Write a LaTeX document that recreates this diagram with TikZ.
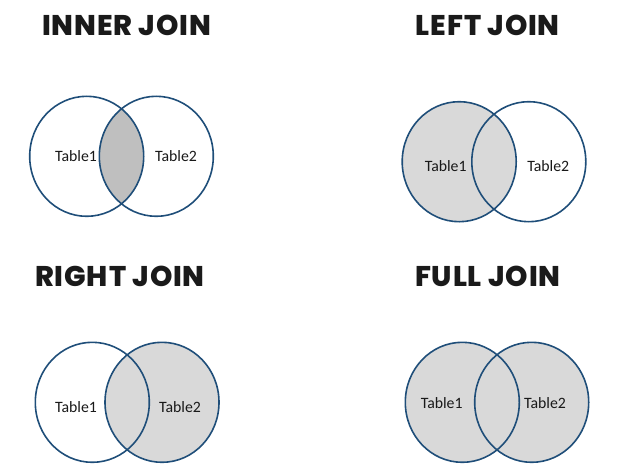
\documentclass[tikz,border=0pt]{standalone}
\usepackage{fontspec}
\setmainfont{Carlito}
\newfontfamily\titlefont{Poppins}[UprightFont=* ExtraBold, LetterSpace=3]
\definecolor{ring}{HTML}{1F4E79}
\definecolor{lightfill}{HTML}{D9D9D9}
\definecolor{darkfill}{HTML}{BFBFBF}
\definecolor{titleink}{HTML}{1A1A1A}
\tikzset{
  ttl/.style={font=\titlefont\fontsize{28.5}{32}\selectfont, text=titleink, inner sep=0pt},
  lbl/.style={font=\fontsize{15.8}{18}\selectfont, text=black!90, inner sep=0pt},
  ringline/.style={draw=ring, line width=1.6pt},
}
\begin{document}
\begin{tikzpicture}[x=1pt,y=-1pt]
\useasboundingbox (0,0) rectangle (617,465);
% ---------- INNER JOIN ----------
\coordinate (a1) at (86.7,156.3);
\coordinate (a2) at (156.3,156.3);
\begin{scope}
  \clip (a1) ellipse [x radius=57, y radius=60];
  \fill[darkfill] (a2) ellipse [x radius=57, y radius=60];
\end{scope}
\draw[ringline] (a1) ellipse [x radius=57, y radius=60];
\draw[ringline] (a2) ellipse [x radius=57, y radius=60];
\node[ttl] (t1) at (126.7,25.5) {INNER JOIN};
\node[lbl] (l1a) at (76,156.5) {Table1};
\node[lbl] (l1b) at (176,156.5) {Table2};
% ---------- LEFT JOIN ----------
\coordinate (b1) at (459.2,161.7);
\coordinate (b2) at (528.8,161.7);
\fill[lightfill] (b1) ellipse [x radius=57, y radius=60];
\draw[ringline] (b1) ellipse [x radius=57, y radius=60];
\draw[ringline] (b2) ellipse [x radius=57, y radius=60];
\node[ttl] (t2) at (487.8,25.5) {LEFT JOIN};
\node[lbl] (l2a) at (445.7,166) {Table1};
\node[lbl] (l2b) at (548.3,166) {Table2};
% ---------- RIGHT JOIN ----------
\coordinate (c1) at (92.3,402.3);
\coordinate (c2) at (162,402.3);
\fill[lightfill] (c2) ellipse [x radius=57, y radius=60];
\draw[ringline] (c1) ellipse [x radius=57, y radius=60];
\draw[ringline] (c2) ellipse [x radius=57, y radius=60];
\node[ttl] (t3) at (120,276) {RIGHT JOIN};
\node[lbl] (l3a) at (76,406.7) {Table1};
\node[lbl] (l3b) at (180,406.7) {Table2};
% ---------- FULL JOIN ----------
\coordinate (d1) at (462.3,402.3);
\coordinate (d2) at (531.7,402.3);
\fill[lightfill] (d1) ellipse [x radius=57, y radius=60];
\fill[lightfill] (d2) ellipse [x radius=57, y radius=60];
\draw[ringline] (d1) ellipse [x radius=57, y radius=60];
\draw[ringline] (d2) ellipse [x radius=57, y radius=60];
\node[ttl] (t4) at (487.8,276) {FULL JOIN};
\node[lbl] (l4a) at (441.7,403) {Table1};
\node[lbl] (l4b) at (545,403) {Table2};
\end{tikzpicture}
\end{document}
